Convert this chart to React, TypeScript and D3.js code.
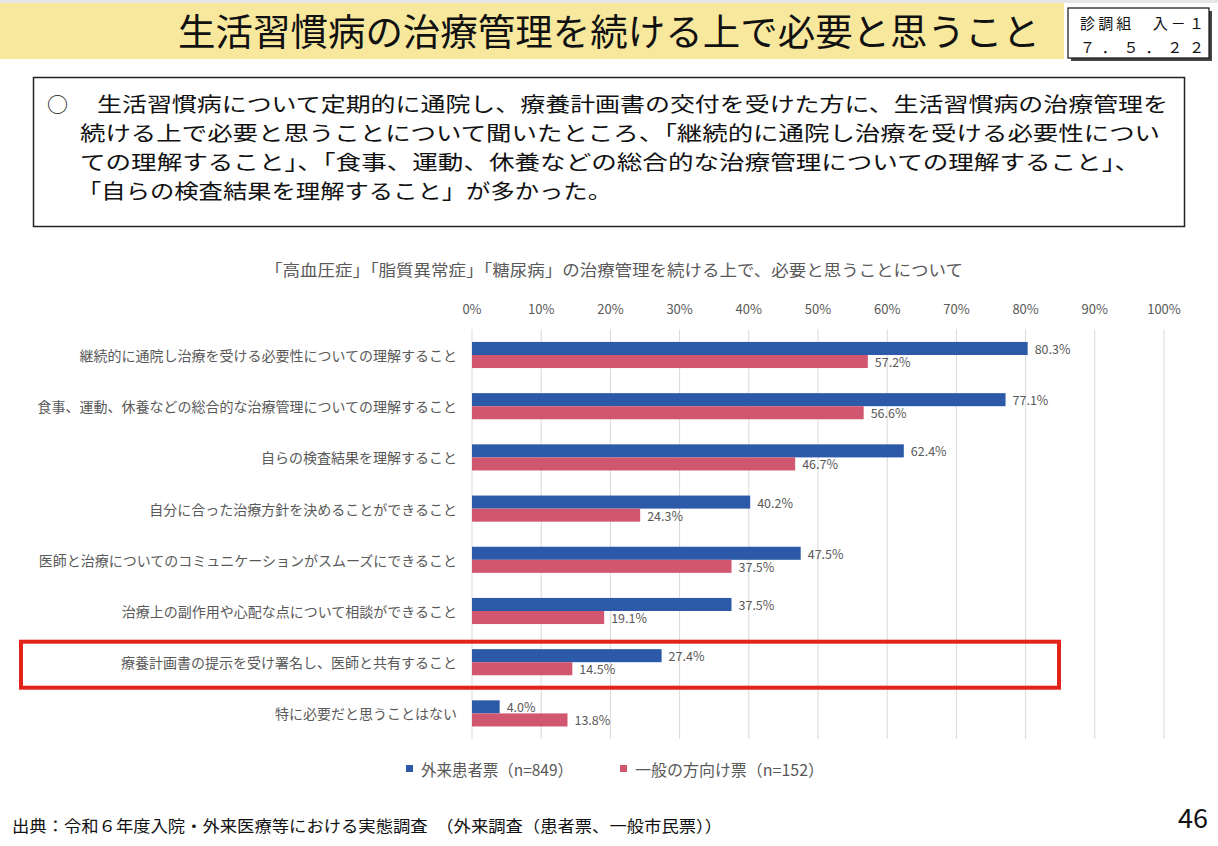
import * as d3 from 'd3';

const categories = [
  '継続的に通院し治療を受ける必要性についての理解すること',
  '食事、運動、休養などの総合的な治療管理についての理解すること',
  '自らの検査結果を理解すること',
  '自分に合った治療方針を決めることができること',
  '医師と治療についてのコミュニケーションがスムーズにできること',
  '治療上の副作用や心配な点について相談ができること',
  '療養計画書の提示を受け署名し、医師と共有すること',
  '特に必要だと思うことはない',
];
const outpatient = [80.3, 77.1, 62.4, 40.2, 47.5, 37.5, 27.4, 4.0];
const general = [57.2, 56.6, 46.7, 24.3, 37.5, 19.1, 14.5, 13.8];
const seriesNames = ['外来患者票（n=849）', '一般の方向け票（n=152）'];
const xTicks = [0, 10, 20, 30, 40, 50, 60, 70, 80, 90, 100];
const highlighted = '療養計画書の提示を受け署名し、医師と共有すること';

const summaryLines = [
  '生活習慣病について定期的に通院し、療養計画書の交付を受けた方に、生活習慣病の治療管理を',
  '続ける上で必要と思うことについて聞いたところ、「継続的に通院し治療を受ける必要性につい',
  'ての理解すること」、「食事、運動、休養などの総合的な治療管理についての理解すること」、',
  '「自らの検査結果を理解すること」が多かった。',
];

const BLUE = '#2C5AA8';
const RED = '#D1566F';
const GRAY = '#595959';
const FONT = '"Noto Sans CJK JP", "Noto Sans", sans-serif';

export default function App() {
  const width = 1218;
  const height = 846;

  const x = d3.scaleLinear().domain([0, 100]).range([472, 1164]);
  const y = d3.scaleBand<string>().domain(categories).range([329.4, 739]).paddingInner(0).paddingOuter(0);
  const inner = y.bandwidth() * 0.51;
  const sub = d3.scaleBand<number>().domain([0, 1]).range([(y.bandwidth() - inner) / 2, (y.bandwidth() + inner) / 2]);
  const series = [outpatient, general];
  const colors = [BLUE, RED];

  const hy = (y(highlighted) ?? 0) + y.bandwidth() / 2;

  // summary text: line start x, end x
  const lineBox = [
    [97, 1168],
    [80, 1160],
    [80, 1140],
    [77, 612],
  ];
  const legendX = [406, 620];
  const legendW = [152, 189];

  return (
    <svg
      width={width}
      height={height}
      style={{ position: 'absolute', left: 0, top: 0, background: '#fff', fontFamily: FONT }}
    >
      {/* header */}
      <rect x={0} y={0} width={width} height={3} fill="#e6e6e6" />
      <rect x={0} y={3} width={1064} height={56} fill="#F7E89E" />
      <text x={178} y={46} fontSize={37} textLength={862} lengthAdjust="spacingAndGlyphs" fill="#111">
        生活習慣病の治療管理を続ける上で必要と思うこと
      </text>
      <rect x={1071} y={11} width={141} height={50} fill="#444" />
      <rect x={1068} y={8} width={141} height={50} fill="#fff" stroke="#111" strokeWidth={1.2} />
      <text x={1080} y={29} fontSize={15} textLength={124} lengthAdjust="spacing" fill="#111">
        診調組　入－１
      </text>
      <text x={1080} y={53} fontSize={15} textLength={124} lengthAdjust="spacing" fill="#111">
        ７．５．２２
      </text>

      {/* summary box */}
      <rect x={33.5} y={77.5} width={1151} height={149} fill="#fff" stroke="#222" strokeWidth={1.5} />
      <text x={47} y={112} fontSize={21} fill="#111">○</text>
      {summaryLines.map((t, i) => (
        <text
          key={i}
          x={lineBox[i][0]}
          y={112 + i * 29}
          fontSize={20.5}
          textLength={lineBox[i][1] - lineBox[i][0]}
          lengthAdjust="spacingAndGlyphs"
          fill="#111"
        >
          {t}
        </text>
      ))}

      {/* chart title */}
      <text x={265} y={276} fontSize={15.5} textLength={698} lengthAdjust="spacingAndGlyphs" fill={GRAY}>
        「高血圧症」「脂質異常症」「糖尿病」の治療管理を続ける上で、必要と思うことについて
      </text>

      {/* gridlines & ticks */}
      {xTicks.map((t) => (
        <g key={t}>
          <line x1={x(t)} x2={x(t)} y1={329.4} y2={739} stroke="#d9d9d9" strokeWidth={1} />
          <text x={x(t)} y={314} fontSize={13} textAnchor="middle" fill={GRAY}>
            {t}%
          </text>
        </g>
      ))}

      {/* bars */}
      {categories.map((c, ci) => {
        const y0 = y(c) ?? 0;
        return (
          <g key={c}>
            <text
              x={457}
              y={y0 + y.bandwidth() / 2}
              fontSize={14}
              textAnchor="end"
              dominantBaseline="central"
              fill={GRAY}
            >
              {c}
            </text>
            {series.map((s, si) => {
              const by = y0 + (sub(si) ?? 0);
              const bh = sub.bandwidth();
              return (
                <g key={si}>
                  <rect x={x(0)} y={by} width={x(s[ci]) - x(0)} height={bh} fill={colors[si]} />
                  <text
                    x={x(s[ci]) + 7}
                    y={by + bh / 2}
                    fontSize={12.5}
                    dominantBaseline="central"
                    fill={GRAY}
                  >
                    {s[ci].toFixed(1)}%
                  </text>
                </g>
              );
            })}
          </g>
        );
      })}

      {/* highlight */}
      <rect x={21} y={hy - 20.5} width={1038} height={46} fill="none" stroke="#E2231A" strokeWidth={4} />

      {/* legend */}
      {seriesNames.map((n, i) => (
        <g key={n}>
          <rect x={legendX[i]} y={765} width={7} height={7} fill={colors[i]} />
          <text
            x={legendX[i] + 15}
            y={776}
            fontSize={16}
            textLength={legendW[i]}
            lengthAdjust="spacingAndGlyphs"
            fill={GRAY}
          >
            {n}
          </text>
        </g>
      ))}

      {/* footer */}
      <text x={12} y={832} fontSize={16} textLength={710} lengthAdjust="spacingAndGlyphs" fill="#111">
        出典：令和６年度入院・外来医療等における実態調査　（外来調査（患者票、一般市民票））
      </text>
      <text x={1208} y={828} fontSize={27} textAnchor="end" fill="#111">
        46
      </text>
    </svg>
  );
}
